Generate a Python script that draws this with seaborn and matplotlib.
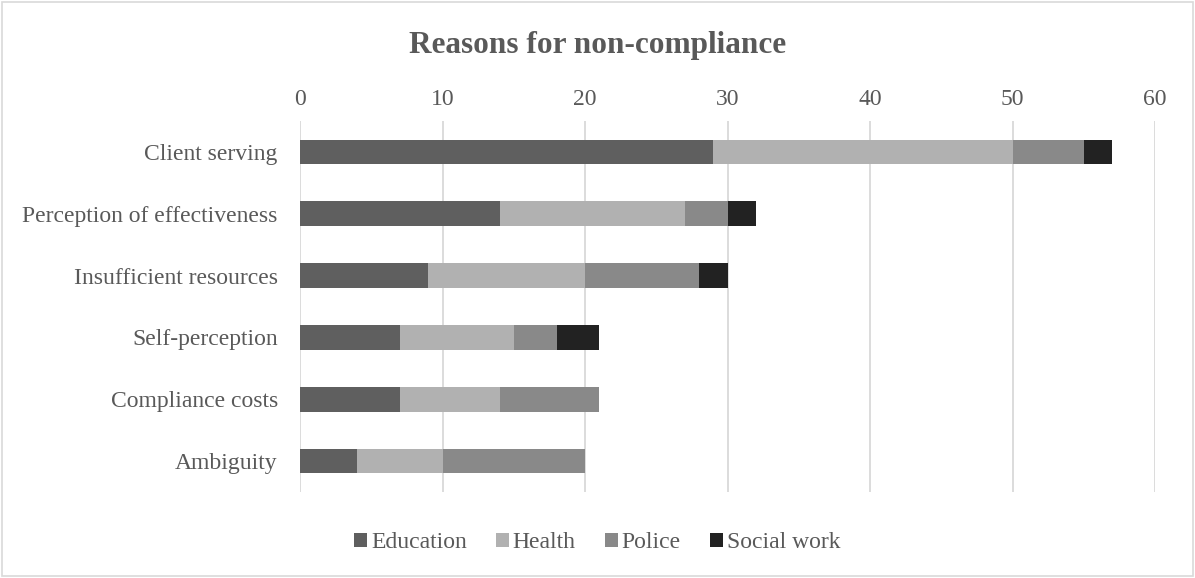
import matplotlib
matplotlib.use("Agg")
import matplotlib.pyplot as plt
import seaborn as sns
import pandas as pd
import numpy as np
from matplotlib.patches import Patch

categories = ["Client serving", "Perception of effectiveness", "Insufficient resources",
              "Self-perception", "Compliance costs", "Ambiguity"]
series_names = ["Education", "Health", "Police", "Social work"]
education = [29, 14, 9, 7, 7, 4]
health = [21, 13, 11, 8, 7, 6]
police = [5, 3, 8, 3, 7, 10]
social_work = [2, 2, 2, 3, 0, 0]
colors = ["#5f5f5f", "#b1b1b1", "#898989", "#222222"]
x_ticks = [0, 10, 20, 30, 40, 50, 60]

sns.set_theme(style="white")
plt.rcParams["font.family"] = ["Liberation Serif", "DejaVu Serif"]
text_color = "#595959"

fig = plt.figure(figsize=(11.95, 5.78), dpi=100)
ax = fig.add_axes([300 / 1195, 1 - 492 / 578, 855 / 1195, 371 / 578])

values = np.array([education, health, police, social_work], dtype=float)
cum = np.cumsum(values, axis=0)

# draw cumulative totals from the outermost segment inward so each stack shows its parts
for i in range(len(series_names) - 1, -1, -1):
    df = pd.DataFrame({"category": categories, "value": cum[i]})
    sns.barplot(data=df, x="value", y="category", order=categories, orient="h",
                color=colors[i], saturation=1, width=0.4, ax=ax, linewidth=0)

ax.set_xlim(0, 60)
ax.set_xticks(x_ticks)
ax.xaxis.tick_top()
ax.grid(axis="x", color="#d9d9d9", linewidth=1.3)
ax.set_axisbelow(True)
for s in ax.spines.values():
    s.set_visible(False)
ax.set_xlabel("")
ax.set_ylabel("")
ax.tick_params(axis="both", length=0, labelsize=17, colors=text_color)
ax.tick_params(axis="y", pad=16)
ax.tick_params(axis="x", pad=8)

fig.text(0.5, 1 - 45 / 578, "Reasons for non-compliance", ha="center", va="center",
         fontsize=22.5, fontweight="bold", color=text_color)

handles = [Patch(facecolor=c, edgecolor="none") for c in colors]
fig.legend(handles, series_names, loc="center", bbox_to_anchor=(0.5, 1 - 543 / 578),
           ncol=4, frameon=False, fontsize=17, handlelength=0.55, handleheight=0.55,
           handletextpad=0.15, columnspacing=1.25, labelcolor=text_color)

fig.patches.append(plt.Rectangle((0.002, 0.003), 0.996, 0.994, transform=fig.transFigure,
                                 fill=False, edgecolor="#d9d9d9", linewidth=1.2))

fig.savefig("out.png", dpi=100)
